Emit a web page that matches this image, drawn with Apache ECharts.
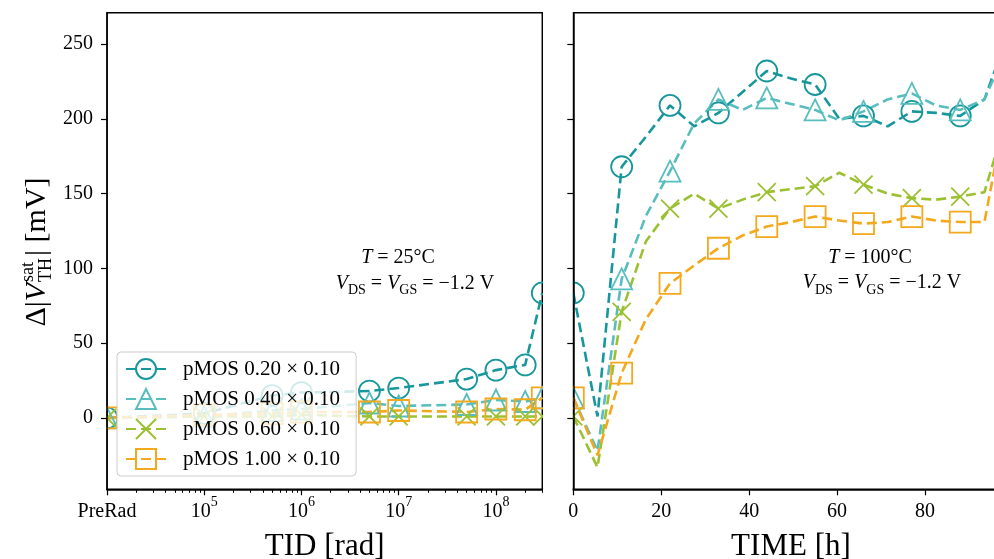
<!DOCTYPE html>
<html><head><meta charset="utf-8">
<script src="https://cdn.jsdelivr.net/npm/echarts@6/dist/echarts.min.js"></script>
<style>html,body{margin:0;padding:0;background:#fff}#c{width:994px;height:559px}</style>
</head><body><div id="c"></div>
<script>
// ---------------- data ----------------
const seriesNames = ['pMOS 0.20 × 0.10', 'pMOS 0.40 × 0.10', 'pMOS 0.60 × 0.10', 'pMOS 1.00 × 0.10'];

// left panel: TID [rad] (PreRad plotted at 1e4)
const tidDoses = [1e4, 1e5, 5e5, 1e6, 5e6, 1e7, 5e7, 1e8, 2e8, 3e8];
const tid020 = [0, 3, 15, 17, 18, 20, 26, 32, 35.5, 83.6];
const tid040 = [0, 1, 5, 6, 10, 8, 9, 12, 11, 13.5];
const tid060 = [0, 1, 1, 2, 1, 1, 1, 1, 1, 1];
const tid100 = [0, 2, 3, 4, 4, 5, 4, 6, 5.5, 13.5];

// right panel: TIME [h]
const timeHours = [0, 5.5, 11, 16.5, 22, 27.5, 33, 38.5, 44, 49.5, 55, 60.5, 66, 71.5, 77, 82.5, 88, 93.5, 99];
const time020 = [83.6, 1, 168, 188, 209, 195, 204, 218, 232, 227, 223, 200, 202, 195, 205, 204, 202, 213, 258];
const time040 = [13.5, -22, 93, 135, 165, 197, 213, 206, 214, 210, 206, 199, 205, 213, 217, 209, 206, 213, 250];
const time060 = [1, -33, 71, 118, 140, 150, 140, 146, 151, 153, 155, 164, 156, 150, 147, 146, 148, 151, 205];
const time100 = [13.5, -25, 30, 66, 90, 102, 113.5, 122, 128, 131, 134.7, 132, 130, 131, 134.7, 132, 131, 131, 216];

// ticks
const tidTickValues = [1e4, 1e5, 1e6, 1e7, 1e8];
const tidTickLabels = ['PreRad', '10^5', '10^6', '10^7', '10^8'];
const timeTickValues = [0, 20, 40, 60, 80];
const yTickValues = [0, 50, 100, 150, 200, 250];

// ---------------- styling ----------------
const SERIF = '"Liberation Serif", "Times New Roman", serif';
const colors = ['#17979b', '#58bdbd', '#9bc031', '#f4a81c'];
const symbols = ['circle', 'triangle', 'path://M0,0L10,10M10,0L0,10', 'rect'];
const symbolSizes = [21, 21, 18, 21];
const markEvery = 2;

const minorTicks = [];
for (let d = 4; d <= 8; d++) for (let k = 2; k <= 9; k++) { const v = k * Math.pow(10, d); if (v <= 3e8) minorTicks.push(v); }

function tidLabel(v) {
  const lv = Math.log10(v);
  for (let i = 0; i < tidTickValues.length; i++) {
    if (Math.abs(Math.log10(tidTickValues[i]) - lv) < 1e-6) {
      const t = tidTickLabels[i];
      if (t.indexOf('^') >= 0) { const p = t.split('^'); return '{m|' + p[0] + '}{s|' + p[1] + '}'; }
      return '{m|' + t + '}';
    }
  }
  return '';
}

function mkSeries(i, data, xi, yi) {
  return {
    type: 'line', name: seriesNames[i], xAxisIndex: xi, yAxisIndex: yi, data: data, z: 3,
    symbol: symbols[i], symbolSize: symbolSizes[i], showAllSymbol: true,
    lineStyle: { color: colors[i], width: 2.6, type: [10, 5] },
    itemStyle: { color: 'rgba(255,255,255,0)', borderColor: colors[i], borderWidth: 1.8 },
    emphasis: { disabled: true }, animation: false
  };
}
const tidSets = [tid020, tid040, tid060, tid100];
const timeSets = [time020, time040, time060, time100];
const series = [];
tidSets.forEach((vals, i) => series.push(mkSeries(i, tidDoses.map((x, j) => [x, vals[j]]), 0, 0)));
timeSets.forEach((vals, i) => series.push(mkSeries(i, timeHours.map((t, j) =>
  j % markEvery === 0 ? [t, vals[j]] : { value: [t, vals[j]], symbol: 'none' }), 2, 1)));

const axisLineStyle = { color: '#000', width: 1.5 };
const tickStyle = { color: '#000', width: 1.2 };
const yAxisCommon = {
  type: 'value', min: -47.7, max: 271, z: 5, position: 'left',
  axisLine: { show: true, onZero: false, lineStyle: axisLineStyle },
  axisTick: { show: true, customValues: yTickValues, length: 6, lineStyle: tickStyle },
  splitLine: { show: false }
};

// measure helper for the y-axis title
const mctx = document.createElement('canvas').getContext('2d');
function tw(txt, font) { mctx.font = font; return mctx.measureText(txt).width; }
const fMain = '30px ' + SERIF, fIt = 'italic 30px ' + SERIF, fScr = '18px ' + SERIF;
const w1 = tw('Δ|', fMain), w2 = tw('V', fIt), ws = Math.max(tw('sat', fScr), tw('TH', fScr)), w3 = tw('| [mV]', fMain);
const W = w1 + w2 + 1 + ws + 2 + w3;
const x0 = -W / 2;
const yTitle = {
  type: 'group', x: 47, y: 252, rotation: Math.PI / 2, z: 7,
  children: [
    { type: 'text', z: 7, style: { text: 'Δ|', x: x0, y: -10, font: fMain, fill: '#000', align: 'left', verticalAlign: 'middle' } },
    { type: 'text', z: 7, style: { text: 'V', x: x0 + w1, y: -10, font: fIt, fill: '#000', align: 'left', verticalAlign: 'middle' } },
    { type: 'text', z: 7, style: { text: 'sat', x: x0 + w1 + w2 + 1, y: -18.5, font: fScr, fill: '#000', align: 'left', verticalAlign: 'middle' } },
    { type: 'text', z: 7, style: { text: 'TH', x: x0 + w1 + w2 + 1, y: -1, font: fScr, fill: '#000', align: 'left', verticalAlign: 'middle' } },
    { type: 'text', z: 7, style: { text: '| [mV]', x: x0 + w1 + w2 + 1 + ws + 2, y: -10, font: fMain, fill: '#000', align: 'left', verticalAlign: 'middle' } }
  ]
};

const annRich = {
  n: { fontFamily: SERIF, fontSize: 20, lineHeight: 22, verticalAlign: 'top', color: '#000' },
  i: { fontFamily: SERIF, fontSize: 20, fontStyle: 'italic', lineHeight: 22, verticalAlign: 'top', color: '#000' },
  b: { fontFamily: SERIF, fontSize: 14, lineHeight: 24, verticalAlign: 'bottom', color: '#000' }
};
function annText(txt, cx, cy) {
  return { type: 'text', z: 7, style: { text: txt, x: cx, y: cy - 11, align: 'center', verticalAlign: 'top', rich: annRich, fill: '#000' } };
}
const tLeft = '{i|T}{n| = 25°C}';
const tRight = '{i|T}{n| = 100°C}';
const vLine = '{i|V}{b|DS}{n| = }{i|V}{b|GS}{n| = −1.2 V}';

const gridCommon = { top: 12.7, width: 435.3, height: 476.6, show: true, borderColor: '#000', borderWidth: 1.5,
  backgroundColor: 'rgba(0,0,0,0)', containLabel: false, outerBoundsMode: 'none' };

const option = {
  backgroundColor: '#fff',
  animation: false,
  grid: [
    Object.assign({ left: 107 }, gridCommon),
    Object.assign({ left: 573.3 }, gridCommon)
  ],
  xAxis: [
    {
      type: 'log', logBase: 10, gridIndex: 0, min: 1e4, max: 3e8, z: 5, position: 'bottom',
      axisLine: { show: true, onZero: false, lineStyle: axisLineStyle },
      axisTick: { show: true, customValues: tidTickValues, length: 6, lineStyle: tickStyle },
      axisLabel: { customValues: tidTickValues, margin: 6, formatter: tidLabel,
        rich: {
          m: { fontFamily: SERIF, fontSize: 20, lineHeight: 20, verticalAlign: 'top', padding: [6, 0, 0, 0], color: '#000' },
          s: { fontFamily: SERIF, fontSize: 14, lineHeight: 14, verticalAlign: 'top', color: '#000' }
        } },
      splitLine: { show: false }, minorTick: { show: false },
      name: 'TID [rad]', nameLocation: 'middle', nameGap: 42,
      nameTextStyle: { fontFamily: SERIF, fontSize: 31, color: '#000' }
    },
    {
      type: 'log', logBase: 10, gridIndex: 0, min: 1e4, max: 3e8, z: 5, position: 'bottom', offset: 0,
      axisLine: { show: false, onZero: false },
      axisTick: { show: true, customValues: minorTicks, length: 3.5, lineStyle: { color: '#000', width: 1 } },
      axisLabel: { show: false }, splitLine: { show: false }
    },
    {
      type: 'value', gridIndex: 1, min: 0, max: 99, z: 5, position: 'bottom',
      axisLine: { show: true, onZero: false, lineStyle: axisLineStyle },
      axisTick: { show: true, customValues: timeTickValues, length: 6, lineStyle: tickStyle },
      axisLabel: { customValues: timeTickValues, margin: 12, fontFamily: SERIF, fontSize: 20, lineHeight: 20, verticalAlign: 'top', color: '#000' },
      splitLine: { show: false },
      name: 'TIME [h]', nameLocation: 'middle', nameGap: 42,
      nameTextStyle: { fontFamily: SERIF, fontSize: 31, color: '#000' }
    }
  ],
  yAxis: [
    Object.assign({}, yAxisCommon, { gridIndex: 0,
      axisLabel: { customValues: yTickValues, margin: 14, fontFamily: SERIF, fontSize: 20, color: '#000' } }),
    Object.assign({}, yAxisCommon, { gridIndex: 1, axisLabel: { show: false } })
  ],
  legend: {
    orient: 'vertical', left: 117, top: 352, padding: [6, 16, 6, 8], z: 6,
    itemWidth: 40, itemHeight: 25, itemGap: 8,
    backgroundColor: 'rgba(255,255,255,0.8)', borderColor: '#cccccc', borderWidth: 1, borderRadius: 4,
    textStyle: { fontFamily: SERIF, fontSize: 21, color: '#000', padding: [0, 0, 0, 12] },
    data: seriesNames, selectedMode: false
  },
  graphic: [
    { type: 'rect', z: 4, shape: { x: 0, y: 0, width: 106.2, height: 488.5 }, style: { fill: '#fff' } },
    { type: 'rect', z: 4, shape: { x: 543.1, y: 0, width: 29.4, height: 488.5 }, style: { fill: '#fff' } },
    yTitle,
    annText(tLeft, 398, 258.5),
    annText(vLine, 415, 284.5),
    annText(tRight, 870, 258.5),
    annText(vLine, 882, 284)
  ],
  series: series
};
const chart = echarts.init(document.getElementById('c'), null, { renderer: 'canvas', width: 994, height: 559 });
chart.setOption(option);
</script>
</body></html>
